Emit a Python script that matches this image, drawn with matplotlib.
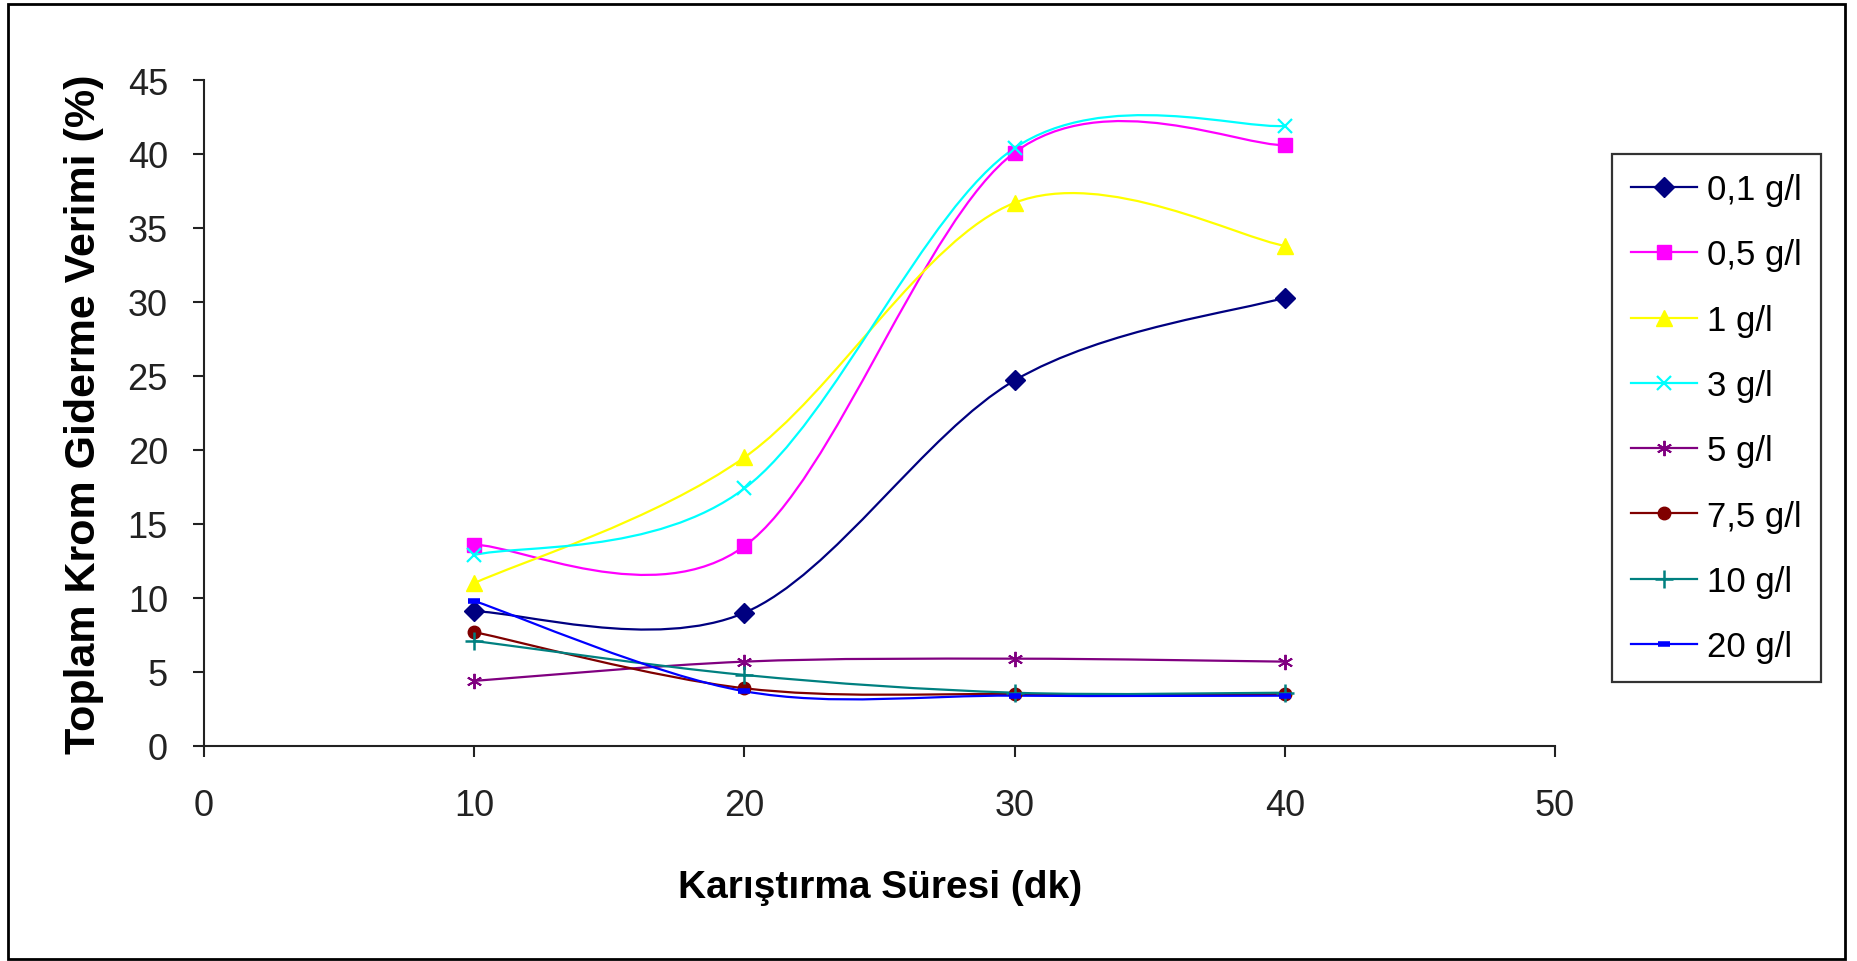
import matplotlib
matplotlib.use('Agg')
import matplotlib.pyplot as plt
from matplotlib.path import Path
from matplotlib.patches import PathPatch, Rectangle
from matplotlib.lines import Line2D

# mixing time (dk) and removal efficiency (%) for each dose
sure = [10, 20, 30, 40]
doz_01 = [9.1, 9.0, 24.7, 30.3]
doz_05 = [13.6, 13.5, 40.1, 40.6]
doz_1 = [11.0, 19.5, 36.7, 33.8]
doz_3 = [12.9, 17.4, 40.4, 41.9]
doz_5 = [4.4, 5.7, 5.9, 5.7]
doz_75 = [7.7, 3.9, 3.5, 3.5]
doz_10 = [7.1, 4.8, 3.6, 3.6]
doz_20 = [9.8, 3.7, 3.4, 3.4]
etiketler = ['0,1 g/l', '0,5 g/l', '1 g/l', '3 g/l', '5 g/l', '7,5 g/l', '10 g/l', '20 g/l']

seriler = [doz_01, doz_05, doz_1, doz_3, doz_5, doz_75, doz_10, doz_20]
renkler = ['#000080', '#FF00FF', '#FFFF00', '#00FFFF', '#800080', '#800000', '#008080', '#0000FF']
isaretler = ['D', 's', '^', 'x', (6, 2, 0), 'o', '+', '_']
boylar = [10, 10, 11, 10, 11, 9, 13, 9]
kalinlik = [1, 1, 1, 1.6, 1.4, 1, 1.8, 4]

plt.rcParams['font.family'] = ['Liberation Sans', 'DejaVu Sans']


def excel_smooth(xs, ys):
    # bezier segments like excel's "smoothed line"
    pts = list(zip(xs, ys))
    n = len(pts)
    verts = [pts[0]]
    codes = [Path.MOVETO]
    for i in range(n - 1):
        p0 = pts[max(i - 1, 0)]
        p1 = pts[i]
        p2 = pts[i + 1]
        p3 = pts[min(i + 2, n - 1)]
        c1 = (p1[0] + (p2[0] - p0[0]) / 6, p1[1] + (p2[1] - p0[1]) / 6)
        c2 = (p2[0] - (p3[0] - p1[0]) / 6, p2[1] - (p3[1] - p1[1]) / 6)
        verts += [c1, c2, p2]
        codes += [Path.CURVE4] * 3
    return Path(verts, codes)


fig = plt.figure(figsize=(18.58, 9.62), dpi=100)
fig.patches.append(Rectangle((0.0043, 0.002), 0.9887, 0.9928, transform=fig.transFigure,
                             fill=False, ec='black', lw=2))

ax = fig.add_axes([0.1098, 0.2235, 0.7271, 0.6923])

handles = []
for ys, c, m, ms, mw, lab in zip(seriler, renkler, isaretler, boylar, kalinlik, etiketler):
    ax.add_patch(PathPatch(excel_smooth(sure, ys), fill=False, ec=c, lw=1.6, zorder=2))
    ax.plot(sure, ys, ls='none', marker=m, ms=ms, mfc=c, mec=c, mew=mw, zorder=3)
    handles.append(Line2D([], [], color=c, lw=1.6, marker=m, ms=ms, mfc=c, mec=c, mew=mw))

ax.set_xlim(0, 50)
ax.set_ylim(0, 45)
ax.set_xticks(range(0, 51, 10))
ax.set_yticks(range(0, 46, 5))
for s in ['top', 'right']:
    ax.spines[s].set_visible(False)
for s in ['left', 'bottom']:
    ax.spines[s].set_color('#222222')
    ax.spines[s].set_linewidth(1.5)
ax.tick_params(direction='out', length=8, width=1.5, color='#222222',
               labelsize=26, labelcolor='#222222')
ax.tick_params(axis='x', pad=22)
ax.tick_params(axis='y', pad=18)

fig.text(0.4736, 1 - 898 / 962, 'Karıştırma Süresi (dk)', fontweight='bold',
         fontsize=28, ha='center', va='baseline')
fig.text(0.045, 1 - 414 / 962, 'Toplam Krom Giderme Verimi (%)', fontweight='bold',
         fontsize=31, rotation=90, ha='center', va='center')

leg = ax.legend(handles, etiketler, loc='upper left', bbox_to_anchor=(1612 / 1858, 1 - 155 / 962),
                bbox_transform=fig.transFigure, borderaxespad=0, fontsize=25,
                handlelength=1.9, handletextpad=0.3, labelspacing=0.93, borderpad=0.55,
                fancybox=False, frameon=True)
leg.get_frame().set_edgecolor('black')
leg.get_frame().set_linewidth(1.6)

plt.savefig('out.png', dpi=100)
plt.close(fig)
